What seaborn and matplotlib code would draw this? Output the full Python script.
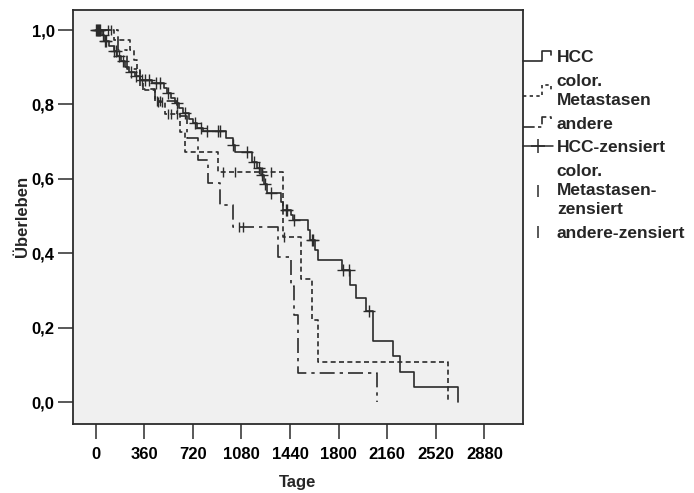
import numpy as np
import pandas as pd
import matplotlib
matplotlib.use("Agg")
import matplotlib.pyplot as plt
import seaborn as sns
from matplotlib.lines import Line2D
from matplotlib.legend_handler import HandlerBase

sns.set_theme(style="white")
plt.rcParams["font.family"] = ["Liberation Sans", "DejaVu Sans"]

# Kaplan-Meier estimates: event times (Tage) and survival after each event
hcc_t = [45, 62, 100, 135, 160, 185, 215, 250, 290, 330, 420, 505, 530, 560, 590,
         615, 650, 690, 720, 755, 795, 966, 1015, 1033, 1156, 1195, 1225, 1245, 1270,
         1375, 1388, 1448, 1462, 1571, 1590, 1625, 1650, 1823, 1884, 1927, 2001, 2057,
         2205, 2252, 2358, 2687]
hcc_s = [0.986, 0.972, 0.958, 0.944, 0.930, 0.916, 0.902, 0.888, 0.876, 0.866, 0.858,
         0.845, 0.832, 0.818, 0.804, 0.790, 0.776, 0.762, 0.750, 0.738, 0.728, 0.710,
         0.690, 0.671, 0.646, 0.628, 0.610, 0.587, 0.562, 0.539, 0.516, 0.503, 0.489,
         0.462, 0.437, 0.410, 0.381, 0.354, 0.316, 0.281, 0.246, 0.164, 0.123, 0.082,
         0.041, 0.0]
hcc_cens = [4, 10, 17, 24, 32, 52, 70, 80, 140, 150, 170, 200, 260, 300, 345, 365, 395,
            450, 480, 540, 600, 660, 735, 780, 823, 909, 921, 1020, 1119, 1173, 1210,
            1235, 1255, 1297, 1410, 1415, 1470, 1600, 1612, 1830, 1879, 2027]

col_t = [140, 255, 285, 310, 330, 350, 440, 515, 625, 663, 905, 1390, 1519, 1605, 1645, 2613]
col_s = [0.973, 0.946, 0.920, 0.893, 0.866, 0.840, 0.808, 0.775, 0.726, 0.672, 0.619,
         0.443, 0.332, 0.221, 0.109, 0.0]
col_cens = [95, 115, 465, 490, 540, 560, 600, 946, 1033, 1236, 1300, 1395]

and_t = [166, 235, 330, 440, 600, 678, 758, 833, 925, 1020, 1353, 1449, 1473, 1502, 2082]
and_s = [0.947, 0.895, 0.842, 0.810, 0.770, 0.710, 0.650, 0.589, 0.530, 0.4705, 0.391,
         0.313, 0.235, 0.078, 0.0]
and_cens = [455, 475, 1065, 1094]

groups = ["HCC", "color.\nMetastasen", "andere"]
x_ticks = [0, 360, 720, 1080, 1440, 1800, 2160, 2520, 2880]
y_ticks = [0.0, 0.2, 0.4, 0.6, 0.8, 1.0]

INK = "#2b2b2b"


def curve_frame(name, times, surv):
    return pd.DataFrame({"Tage": [0] + list(times),
                         "Überleben": [1.0] + list(surv),
                         "Gruppe": name})


def surv_at(times, surv, t):
    times = np.asarray(times, dtype=float)
    surv = np.asarray(surv, dtype=float)
    idx = np.searchsorted(times, np.asarray(t, dtype=float), side="right") - 1
    return np.where(idx >= 0, surv[np.clip(idx, 0, None)], 1.0)


curves = pd.concat([curve_frame(groups[0], hcc_t, hcc_s),
                    curve_frame(groups[1], col_t, col_s),
                    curve_frame(groups[2], and_t, and_s)], ignore_index=True)

dash_map = {groups[0]: "", groups[1]: (3, 2), groups[2]: (9, 3, 2, 3)}

fig = plt.figure(figsize=(6.94, 4.93), dpi=100)
ax = fig.add_axes([72.6 / 694, 1 - 423.7 / 493, (523 - 72.6) / 694, (423.7 - 10) / 493])
ax.set_facecolor("#f0f0f0")

sns.lineplot(data=curves, x="Tage", y="Überleben", style="Gruppe", dashes=dash_map,
             color=INK, linewidth=1.2, drawstyle="steps-post", sort=False,
             estimator=None, legend=False, ax=ax)

# censored observations
sns.scatterplot(x=hcc_cens, y=surv_at(hcc_t, hcc_s, hcc_cens), marker="+", s=70,
                color=INK, linewidth=1.0, ax=ax, legend=False, zorder=3)
sns.scatterplot(x=col_cens, y=surv_at(col_t, col_s, col_cens), marker="|", s=60,
                color=INK, linewidth=1.0, ax=ax, legend=False, zorder=3)
sns.scatterplot(x=and_cens, y=surv_at(and_t, and_s, and_cens), marker="|", s=60,
                color=INK, linewidth=1.0, ax=ax, legend=False, zorder=3)

ax.set_xlim(-170, 3166)
ax.set_ylim(-0.058, 1.054)
ax.set_xticks(x_ticks)
ax.set_xticklabels([str(v) for v in x_ticks])
ax.set_yticks(y_ticks)
ax.set_yticklabels([f"{v:.1f}".replace(".", ",") for v in y_ticks])
ax.tick_params(axis="both", direction="out", length=11, width=1.1, color=INK,
               labelsize=12, labelcolor="black", bottom=True, left=True)
ax.tick_params(axis="y", pad=2)
ax.tick_params(axis="x", pad=6)
for lab in ax.get_xticklabels() + ax.get_yticklabels():
    lab.set_fontweight("bold")
for sp in ax.spines.values():
    sp.set_visible(True)
    sp.set_color(INK)
    sp.set_linewidth(1.3)

ax.set_xlabel("Tage", fontsize=12, fontweight="bold")
ax.set_ylabel("Überleben", fontsize=12, fontweight="bold")
ax.xaxis.set_label_coords(0.5, -0.124)
ax.yaxis.set_label_coords(-0.095, 0.5)


class StepHandler(HandlerBase):
    def create_artists(self, legend, orig_handle, xdescent, ydescent, width, height,
                       fontsize, trans):
        x0, y0 = -xdescent, -ydescent
        xs = [x0, x0 + 0.62 * width, x0 + 0.62 * width, x0 + 0.92 * width, x0 + 0.92 * width]
        ys = [y0 + 0.1 * height, y0 + 0.1 * height, y0 + 0.95 * height,
              y0 + 0.95 * height, y0 + 0.55 * height]
        line = Line2D(xs, ys)
        line.update_from(orig_handle)
        line.set_transform(trans)
        return [line]


h_hcc = Line2D([], [], color=INK, linewidth=1.2, linestyle="-")
h_col = Line2D([], [], color=INK, linewidth=1.2, dashes=(2, 2))
h_and = Line2D([], [], color=INK, linewidth=1.2, dashes=(7, 2, 2, 2))
h_hcc_c = Line2D([], [], color=INK, linewidth=1.1, linestyle="-", marker="+",
                 markersize=10, markeredgewidth=1.1)
h_col_c = Line2D([], [], color=INK, linestyle="none", marker="|", markersize=9,
                 markeredgewidth=1.1)
h_and_c = Line2D([], [], color=INK, linestyle="none", marker="|", markersize=9,
                 markeredgewidth=1.1)

labels = ["HCC", "color.\nMetastasen", "andere", "HCC-zensiert",
          "color.\nMetastasen-\nzensiert", "andere-zensiert"]
leg = fig.legend([h_hcc, h_col, h_and, h_hcc_c, h_col_c, h_and_c], labels,
                 loc="upper left", bbox_to_anchor=(523 / 694, 1 - 50 / 493),
                 frameon=False, borderpad=0, borderaxespad=0, handlelength=1.75,
                 handletextpad=0.2, labelspacing=0.5, numpoints=1,
                 prop={"size": 12.5, "weight": "bold"},
                 handler_map={h_hcc: StepHandler(), h_col: StepHandler(),
                              h_and: StepHandler()})
for t in leg.get_texts():
    t.set_linespacing(1.33)

fig.savefig("out.png", dpi=100, facecolor="white")
